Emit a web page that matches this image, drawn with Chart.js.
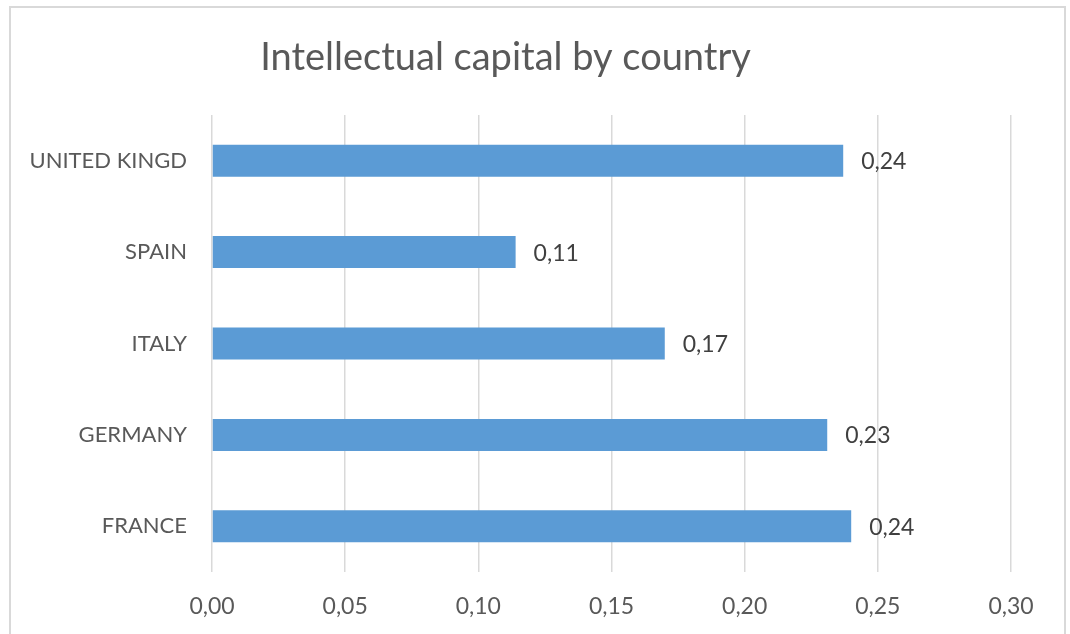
<!DOCTYPE html>
<html>
<head>
<meta charset="utf-8">
<script src="https://cdn.jsdelivr.net/npm/chart.js@4/dist/chart.umd.min.js"></script>
<style>
  html, body { margin: 0; padding: 0; background: #fff; overflow: hidden; }
  #frame {
    position: absolute; left: 9px; top: 6px; width: 1057px; height: 700px;
    border: 2px solid #d9d9d9; box-sizing: border-box;
  }
  #wrap { position: absolute; left: 0; top: 0; width: 1070px; height: 634px; }
</style>
</head>
<body>
<div id="frame"></div>
<div id="wrap"><canvas id="chart" width="1070" height="634"></canvas></div>
<script>
  // chart data
  const countries = ['UNITED KINGD', 'SPAIN', 'ITALY', 'GERMANY', 'FRANCE'];
  const capital = [0.237, 0.114, 0.170, 0.231, 0.240];
  const xTicks = [0, 0.05, 0.10, 0.15, 0.20, 0.25, 0.30];

  const fmt = v => Number(v).toFixed(2).replace('.', ',');
  const FONT = 'Lato, "Open Sans", sans-serif';

  // draws the value label just to the right of each bar
  const valueLabels = {
    id: 'valueLabels',
    afterDatasetsDraw(chart) {
      const ctx = chart.ctx;
      const meta = chart.getDatasetMeta(0);
      ctx.save();
      ctx.font = '23px ' + FONT;
      ctx.fillStyle = '#404040';
      ctx.textAlign = 'left';
      ctx.textBaseline = 'middle';
      meta.data.forEach((bar, i) => {
        ctx.fillText(fmt(capital[i]), bar.x + 18, bar.y + 1);
      });
      ctx.restore();
    }
  };

  const ctx = document.getElementById('chart').getContext('2d');
  const chart = new Chart(ctx, {
    type: 'bar',
    data: {
      labels: countries,
      datasets: [{
        label: 'Intellectual capital',
        data: capital,
        backgroundColor: '#5b9bd5',
        borderWidth: 0,
        categoryPercentage: 1,
        barPercentage: 0.35
      }]
    },
    options: {
      indexAxis: 'y',
      responsive: false,
      animation: false,
      layout: { padding: { left: 0, right: 59, top: 0, bottom: 0 } },
      plugins: {
        legend: { display: false },
        tooltip: { enabled: false },
        title: {
          display: true,
          text: 'Intellectual capital by country',
          color: '#595959',
          font: { family: FONT, size: 38, weight: 'normal', lineHeight: 1.2 },
          padding: { top: 35, bottom: 34.4 }
        }
      },
      scales: {
        x: {
          min: 0,
          max: 0.3,
          afterBuildTicks: scale => { scale.ticks = xTicks.map(v => ({ value: v })); },
          afterFit: scale => { scale.height = 62; },
          border: { display: false },
          grid: { color: '#d9d9d9', lineWidth: 1.5, drawTicks: false },
          ticks: {
            padding: 21,
            color: '#595959',
            font: { family: FONT, size: 23 },
            callback: v => fmt(v)
          }
        },
        y: {
          afterFit: scale => { scale.width = 212; },
          border: { display: false },
          grid: { display: false, drawTicks: false },
          ticks: {
            padding: 25,
            color: '#595959',
            font: { family: FONT, size: 22 }
          }
        }
      }
    },
    plugins: [valueLabels]
  });
</script>
</body>
</html>
